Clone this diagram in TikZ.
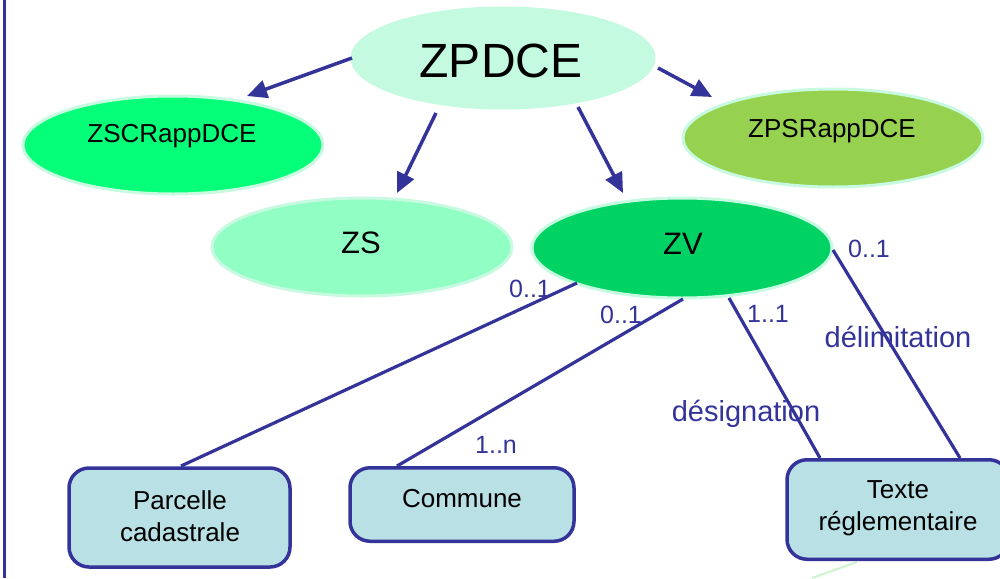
\documentclass[tikz,border=0pt]{standalone}
\usepackage{fontspec}
\setmainfont{Liberation Sans}
\usetikzlibrary{shapes.geometric,arrows.meta}
\definecolor{lineblue}{RGB}{51,51,153}
\definecolor{mint}{RGB}{200,250,225}
\definecolor{cZPDCE}{RGB}{196,250,223}
\definecolor{cZSCR}{RGB}{6,255,120}
\definecolor{cZS}{RGB}{145,255,195}
\definecolor{cZV}{RGB}{0,210,100}
\definecolor{cZPSR}{RGB}{150,210,80}
\definecolor{boxfill}{RGB}{185,224,228}
\definecolor{faint}{RGB}{205,245,205}
\begin{document}
\begin{tikzpicture}[x=0.5pt,y=-0.5pt,
  ell/.style={ellipse, draw=mint, line width=1.5pt, inner sep=0pt, minimum width=150pt, minimum height=49pt},
  ettxt/.style={font=\fontsize{13}{16}\selectfont, inner sep=0pt},
  bigtxt/.style={font=\fontsize{15.5}{18}\selectfont, inner sep=0pt},
  entbox/.style={draw=lineblue, line width=1.75pt, fill=boxfill, rounded corners=10pt, inner sep=0pt},
  boxtxt/.style={font=\fontsize{13}{16}\selectfont, align=center, inner sep=0pt},
  arr/.style={draw=lineblue, line width=1.75pt, -{Triangle[length=10pt,width=9pt]}},
  assoc/.style={draw=lineblue, line width=1.6pt},
  card/.style={text=lineblue, font=\fontsize{12.5}{15}\selectfont, inner sep=0pt, anchor=base},
  role/.style={text=lineblue, font=\fontsize{14.5}{17}\selectfont, inner sep=0pt, anchor=base}
]
\useasboundingbox (0,0) rectangle (1000,578);
% left frame line
\coordinate (lt) at (4,0);
\coordinate (lb) at (4,578);
\draw[lineblue, line width=1.5pt] (lt) -- (lb);

% faint fragment at bottom
\coordinate (f1) at (812,578);
\coordinate (f2) at (857,562);
\draw[faint, line width=1pt] (f1) -- (f2);

% ellipses
\node[ell, draw=cZPDCE, fill=cZPDCE, minimum width=151pt, minimum height=50pt] (zpdce) at (503,58) {};
\node[ell, fill=cZSCR] (zscr) at (173,145) {};
\node[ell, fill=cZS] (zs) at (362,247) {};
\node[ell, fill=cZV, minimum height=50pt] (zv) at (682,248) {};
\node[ell, fill=cZPSR] (zpsr) at (833,138) {};

\node[font=\fontsize{24}{28}\selectfont, inner sep=0pt] (tzpdce) at (501,61) {ZPDCE};
\node[ettxt] (tzscr) at (172,136) {ZSCRappDCE};
\node[ettxt] (tzpsr) at (832,131) {ZPSRappDCE};
\node[bigtxt] (tzs) at (361,243) {ZS};
\node[bigtxt] (tzv) at (683,244) {ZV};

% arrows from ZPDCE
\coordinate (a1s) at (352,58);  \coordinate (a1e) at (247,96);
\coordinate (a2s) at (436,113); \coordinate (a2e) at (397,193);
\coordinate (a3s) at (578,107); \coordinate (a3e) at (623,193);
\coordinate (a4s) at (658,68);  \coordinate (a4e) at (712,97);
\draw[arr] (a1s) -- (a1e);
\draw[arr] (a2s) -- (a2e);
\draw[arr] (a3s) -- (a3e);
\draw[arr] (a4s) -- (a4e);

% entity boxes
\node[entbox, minimum width=110.5pt, minimum height=49.5pt] (parcelle) at (179.5,517.5) {};
\node[entbox, minimum width=112pt, minimum height=36.75pt] (commune) at (462,504.5) {};
\node[entbox, minimum width=111pt, minimum height=49.75pt] (texte) at (898,509.5) {};

\node[boxtxt] (tparcelle) at (180,516) {Parcelle\\cadastrale};
\node[boxtxt] (tcommune) at (462,499) {Commune};
\node[boxtxt] (ttexte) at (898,508) {Texte\\réglementaire};

% association lines
\coordinate (l1s) at (577,283); \coordinate (l1e) at (181,466);
\coordinate (l2s) at (683,299); \coordinate (l2e) at (397,466);
\coordinate (l3s) at (729,298); \coordinate (l3e) at (820,458);
\coordinate (l4s) at (833,250); \coordinate (l4e) at (960,458);
\draw[assoc] (l1s) -- (l1e);
\draw[assoc] (l2s) -- (l2e);
\draw[assoc] (l3s) -- (l3e);
\draw[assoc] (l4s) -- (l4e);

% cardinalities and roles
\node[card] (c1) at (530,297) {0..1};
\node[card] (c2) at (621,323) {0..1};
\node[card] (c3) at (768,322) {1..1};
\node[card] (c4) at (869,257) {0..1};
\node[card] (c5) at (496,453) {1..n};
\node[role] (r1) at (898,347) {délimitation};
\node[role] (r2) at (746,421) {désignation};
\end{tikzpicture}
\end{document}
